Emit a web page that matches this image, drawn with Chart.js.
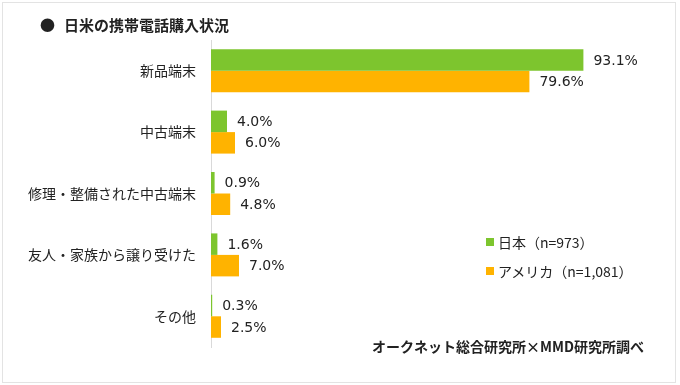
<!DOCTYPE html>
<html>
<head>
<meta charset="utf-8">
<script src="https://cdn.jsdelivr.net/npm/chart.js@4/dist/chart.umd.min.js"></script>
<style>
  html, body { margin: 0; padding: 0; background: #fff; }
  #wrap { position: relative; width: 680px; height: 385px; overflow: hidden; }
  #frame { position: absolute; left: 2px; top: 2px; width: 674px; height: 381px; border: 1px solid #e3e3e3; box-sizing: border-box; pointer-events: none; }
  canvas { position: absolute; left: 0; top: 0; }
  .txt { position: absolute; font-family: "Noto Sans CJK JP", sans-serif; color: #222; white-space: nowrap; line-height: 1; }
  #title { left: 40px; top: 17px; font-size: 15px; font-weight: 700; }
  #title .dot { display: inline-block; width: 24px; }
  #source { left: 372px; top: 339px; font-size: 14px; font-weight: 700; }
  .leg { position: absolute; left: 486px; font-family: "Noto Sans CJK JP", sans-serif; font-size: 14px; color: #222; white-space: nowrap; line-height: 1; }
  .leg i { position: absolute; left: 0; top: 3px; width: 8px; height: 8px; }
  .leg span { position: absolute; left: 12px; top: 0; }
</style>
</head>
<body>
<div id="wrap">
  <canvas id="c" width="680" height="385"></canvas>
  <div id="title" class="txt"><span class="dot">●</span>日米の携帯電話購入状況</div>
  <div id="legend"></div>
  <div id="source" class="txt">オークネット総合研究所×MMD研究所調べ</div>
  <div id="frame"></div>
</div>
<script>
const categories = ["新品端末", "中古端末", "修理・整備された中古端末", "友人・家族から譲り受けた", "その他"];
const seriesNames = ["日本（n=973）", "アメリカ（n=1,081）"];
const japanValues = [93.1, 4.0, 0.9, 1.6, 0.3];
const usaValues = [79.6, 6.0, 4.8, 7.0, 2.5];
const seriesColors = ["#7dc52e", "#ffb300"];

// HTML legend
const legEl = document.getElementById('legend');
const legTops = [235, 264];
seriesNames.forEach((n, i) => {
  const d = document.createElement('div');
  d.className = 'leg';
  d.style.top = legTops[i] + 'px';
  d.innerHTML = '<i style="background:' + seriesColors[i] + '"></i><span>' + n + '</span>';
  legEl.appendChild(d);
});

const valueLabels = {
  id: 'valueLabels',
  afterDatasetsDraw(chart) {
    const ctx = chart.ctx;
    ctx.save();
    ctx.font = '14px "DejaVu Sans", Verdana, sans-serif';
    ctx.fillStyle = '#222';
    ctx.textAlign = 'left';
    ctx.textBaseline = 'middle';
    chart.data.datasets.forEach((ds, di) => {
      const meta = chart.getDatasetMeta(di);
      meta.data.forEach((bar, i) => {
        ctx.fillText(ds.data[i].toFixed(1) + '%', bar.x + 10, bar.y + 1);
      });
    });
    ctx.restore();
  }
};

new Chart(document.getElementById('c'), {
  type: 'bar',
  data: {
    labels: categories,
    datasets: [
      { label: seriesNames[0], data: japanValues, backgroundColor: seriesColors[0], categoryPercentage: 0.7, barPercentage: 1.0 },
      { label: seriesNames[1], data: usaValues, backgroundColor: seriesColors[1], categoryPercentage: 0.7, barPercentage: 1.0 }
    ]
  },
  options: {
    indexAxis: 'y',
    responsive: false,
    animation: false,
    layout: { padding: { left: 0, top: 40, right: 69, bottom: 38 } },
    plugins: { legend: { display: false }, tooltip: { enabled: false } },
    scales: {
      x: { display: false, min: 0, max: 100 },
      y: {
        grid: { display: false, drawTicks: false },
        border: { display: true, color: '#d9d9d9', width: 1 },
        ticks: { color: '#222', padding: 15, font: { family: '"Noto Sans CJK JP", sans-serif', size: 14 } },
        afterFit(scale) { scale.width = 211; }
      }
    }
  },
  plugins: [valueLabels]
});
</script>
</body>
</html>
